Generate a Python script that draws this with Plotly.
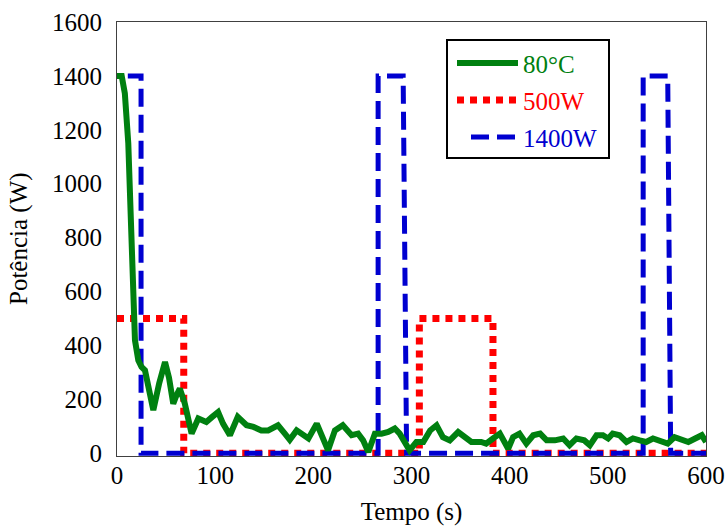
import plotly.graph_objects as go

# ---- data ----
green_t = [0, 4.8, 8, 11.5, 13.2, 15, 16.6, 18.3, 21.7, 25, 28.5, 33, 37, 43, 48.9, 53, 57.3, 60, 64, 69,
           76, 82.8, 91, 97, 103, 108, 115, 123, 132, 139, 147, 154, 164, 171, 176, 183, 195, 203.5, 208, 215,
           222, 230, 239, 245.6, 250.7, 256, 262.7, 269.5, 276.3, 283, 288, 295, 298, 305, 312, 319, 325.5,
           332, 339, 347.5, 354, 361, 371, 376, 383, 390, 398.5, 403.5, 410, 417, 424, 431, 437.7, 446, 454.5,
           461, 468, 476, 481.7, 488.5, 495, 500.3, 505, 512, 519, 525.6, 532.5, 539, 546, 554.5, 561, 568,
           575, 582, 589, 595.7, 600]
green_p = [1400, 1400, 1335, 1150, 965, 716, 531, 420, 345, 320, 308, 230, 160, 260, 339, 280, 184, 210, 240, 185,
           73, 129, 116, 135, 153, 110, 67, 135, 104, 98, 85, 85, 104, 73, 50, 85, 55, 110, 73, 11,
           85, 104, 67, 73, 48, 5, 73, 73, 79, 92, 73, 36, 11, 42, 42, 85, 104,
           60, 48, 79, 60, 42, 42, 36, 55, 73, 17, 60, 73, 36, 67, 73, 48, 48, 55,
           30, 55, 48, 30, 67, 67, 55, 73, 67, 42, 55, 48, 42, 55, 42, 36, 60,
           48, 42, 55, 67, 42]

red_t = [0, 68, 68, 308, 308, 383, 383, 600]
red_p = [500, 500, 0, 0, 500, 500, 0, 0]

blue_t = [11, 24.5, 24.5, 266, 266, 291.5, 295, 536, 536, 561, 564, 600]
blue_p = [1400, 1400, 0, 0, 1400, 1400, 0, 0, 1400, 1400, 0, 0]

names = ["80°C", "500W", "1400W"]
colors = ["#008010", "#FF0000", "#0000D0"]

x_ticks = [0, 100, 200, 300, 400, 500, 600]
y_ticks = [0, 200, 400, 600, 800, 1000, 1200, 1400, 1600]

x_title = "Tempo (s)"
y_title = "Potência (W)"

FONT = "Liberation Serif, Times New Roman, serif"

W, H = 727, 526
L, R, T, B = 117, 706, 22, 456          # plot area in pixels

fig = go.Figure()
fig.add_trace(go.Scatter(x=red_t, y=red_p, mode="lines", name=names[1], cliponaxis=False,
                         line=dict(color=colors[1], width=7, dash="7px,6px"), showlegend=False))
fig.add_trace(go.Scatter(x=blue_t, y=blue_p, mode="lines", name=names[2], cliponaxis=False,
                         line=dict(color=colors[2], width=5, dash="18px,8px"), showlegend=False))
fig.add_trace(go.Scatter(x=green_t, y=green_p, mode="lines", name=names[0], cliponaxis=False,
                         line=dict(color=colors[0], width=6), showlegend=False))

# ---- manual legend (paper coordinates) ----
def px_x(px):
    return (px - L) / float(R - L)

def px_y(py):
    return (B - py) / float(B - T)

shapes = [dict(type="rect", xref="paper", yref="paper",
               x0=px_x(447), x1=px_x(609), y0=px_y(158), y1=px_y(40),
               line=dict(color="black", width=2), fillcolor="white")]
rows = [(63, 457, 518, "solid", 6), (100, 457, 518, "7px,6px", 7), (137, 471, 515, "18px,8px", 5)]
annotations = []
for i, (cy, a, b, dash, w) in enumerate(rows):
    shapes.append(dict(type="line", xref="paper", yref="paper",
                       x0=px_x(a), x1=px_x(b), y0=px_y(cy), y1=px_y(cy),
                       line=dict(color=colors[i], width=w, dash=dash)))
    annotations.append(dict(xref="paper", yref="paper", x=px_x(521), y=px_y(cy + 1),
                            xanchor="left", yanchor="middle", showarrow=False,
                            text=names[i], font=dict(family=FONT, size=25, color=colors[i])))

# y-axis title as a rotated annotation
annotations.append(dict(xref="paper", yref="paper", x=px_x(19), y=px_y(239),
                        xanchor="center", yanchor="middle", showarrow=False, textangle=-90,
                        text=y_title, font=dict(family=FONT, size=25, color="black")))

fig.update_layout(
    width=W, height=H,
    margin=dict(l=L, r=W - R, t=T, b=H - B),
    paper_bgcolor="white", plot_bgcolor="white",
    font=dict(family=FONT, size=25, color="black"),
    shapes=shapes, annotations=annotations,
    xaxis=dict(range=[0, 600], tickvals=x_ticks, ticktext=[str(v) for v in x_ticks],
               showgrid=False, zeroline=False, showline=True, mirror=True, automargin=False,
               linecolor="#404040", linewidth=1, ticks="", ticklabelstandoff=-3, layer="below traces",
               title=dict(text=x_title, font=dict(size=25), standoff=17)),
    yaxis=dict(range=[-10, 1600], tickvals=y_ticks, ticktext=[str(v) for v in y_ticks],
               showgrid=False, zeroline=False, showline=True, mirror=True, automargin=False,
               linecolor="#404040", linewidth=1, ticks="", ticklabelstandoff=9, layer="below traces"),
)

fig.write_html("out.html", config={"displayModeBar": False},
               post_script="document.body.style.margin='0';document.body.style.overflow='hidden';")
